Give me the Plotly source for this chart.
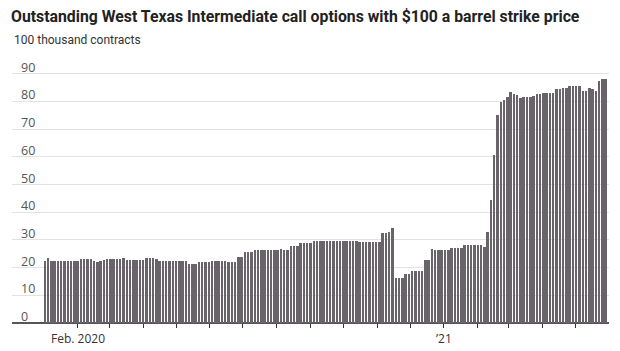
import pandas as pd
import plotly.graph_objects as go

# ---- data (100 thousand contracts), one bar every 3 days from 2 Jan 2020 ----
start_date = "2020-01-02"
step_days = 3
values = [
    22.5, 23.3,
    22.4, 22.4, 22.4, 22.4, 22.4, 22.4, 22.4, 22.4, 22.4,
    23.0, 23.0, 23.0, 23.0,
    22.3, 22.2,
    22.5, 22.6,
    23.0, 23.0, 23.0, 23.0, 23.0,
    23.4,
    22.9, 22.9, 22.9, 22.9, 22.9, 22.9,
    23.3, 23.3, 23.3, 23.2,
    22.5, 22.5, 22.5, 22.5, 22.5, 22.5, 22.5, 22.5, 22.5,
    21.2, 21.2, 21.3,
    21.9, 21.9, 21.9, 21.9,
    22.3, 22.3, 22.3, 22.3, 22.3, 22.2, 22.2, 22.2,
    23.9, 23.9,
    25.7, 25.7, 25.7,
    26.2, 26.2, 26.2, 26.2, 26.2, 26.2, 26.2, 26.2,
    26.8,
    26.4, 26.4,
    27.8, 27.8, 27.8,
    28.8, 28.8, 28.8, 28.8,
    29.7, 29.7, 29.7, 29.7, 29.7, 29.7, 29.7, 29.7, 29.7, 29.7, 29.7, 29.7, 29.7, 29.7,
    29.4, 29.4, 29.4, 29.4, 29.4, 29.4, 29.4,
    32.6, 32.6,
    33.0,
    34.2,
    16.3, 16.3, 16.3,
    17.6, 17.6,
    18.8, 18.8, 18.8, 18.9,
    22.7, 22.7,
    26.7,
    26.3, 26.3, 26.3, 26.3, 26.3,
    26.9, 26.9, 26.9, 26.9,
    28.0, 28.0, 28.1, 28.1, 28.0, 28.0,
    27.5,
    33.0,
    44.4,
    60.6,
    75.0,
    79.9,
    80.5,
    81.7,
    83.3,
    82.6,
    82.2,
    81.4, 81.6, 81.5, 81.7, 81.8,
    82.5, 82.7, 82.9, 82.9, 83.0, 83.0,
    84.3, 84.3,
    85.0, 85.0,
    85.5, 85.5, 85.5, 85.5,
    83.7, 83.7,
    84.9,
    84.3,
    83.7,
    87.5,
    88.1, 88.1,
]
dates = [pd.Timestamp(start_date) + pd.Timedelta(days=step_days * i) for i in range(len(values))]

y_ticks = [0, 10, 20, 30, 40, 50, 60, 70, 80, 90]
x_tick_dates = pd.date_range("2020-02-01", "2021-05-01", freq="MS")
x_label_dates = ["2020-02-01", "2021-01-01"]
x_label_text = ["Feb. 2020", "\u201921"]

title = "Outstanding West Texas Intermediate call options with $100 a barrel strike price"
unit = "100 thousand contracts"

fig = go.Figure()
fig.add_trace(go.Bar(
    x=dates, y=values,
    width=step_days * 86400000 * 0.75,
    marker=dict(color="#68646a", line=dict(width=0)),
    hoverinfo="skip",
))

annotations = [
    dict(text="<b>" + title + "</b>", xref="paper", yref="paper", x=-0.005, y=1.0,
         xanchor="left", yanchor="bottom", yshift=18, showarrow=False,
         font=dict(family="Roboto", size=15.8, color="#222222")),
    dict(text=unit, xref="paper", yref="y", x=0, y=100, xanchor="left", yanchor="bottom",
         showarrow=False, yshift=-3,
         font=dict(family="Liberation Sans Narrow, Roboto", size=12, color="#333333")),
]
for t in y_ticks:
    annotations.append(dict(text=str(t), xref="paper", yref="y", x=0.012, y=t,
                            xanchor="left", yanchor="bottom", showarrow=False, yshift=-4,
                            font=dict(family="Open Sans", size=12.5, color="#555555")))
for d, s in zip(x_label_dates, x_label_text):
    annotations.append(dict(text=s, xref="x", yref="paper", x=d, y=0,
                            xanchor="center", yanchor="top", showarrow=False, yshift=-5,
                            font=dict(family="Open Sans", size=12, color="#333333")))

fig.update_layout(
    width=620, height=351,
    margin=dict(l=12, r=11, t=46, b=28),
    paper_bgcolor="white", plot_bgcolor="white",
    showlegend=False,
    bargap=0,
    annotations=annotations,
    xaxis=dict(
        type="date",
        range=["2019-12-03", "2021-06-01"],
        tickvals=list(x_tick_dates), ticktext=[""] * len(x_tick_dates),
        ticks="outside", ticklen=4, tickcolor="#333333", tickwidth=1,
        showgrid=False, zeroline=False, showline=False,
        fixedrange=True,
    ),
    yaxis=dict(
        range=[0, 100],
        tickvals=[0, 10, 20, 30, 40, 50, 60, 70, 80, 90, 100],
        showticklabels=False,
        showgrid=True, gridcolor="#e2e2e2", gridwidth=1,
        zeroline=True, zerolinecolor="#555555", zerolinewidth=1.5,
        fixedrange=True,
    ),
)

fig.write_html("out.html")
